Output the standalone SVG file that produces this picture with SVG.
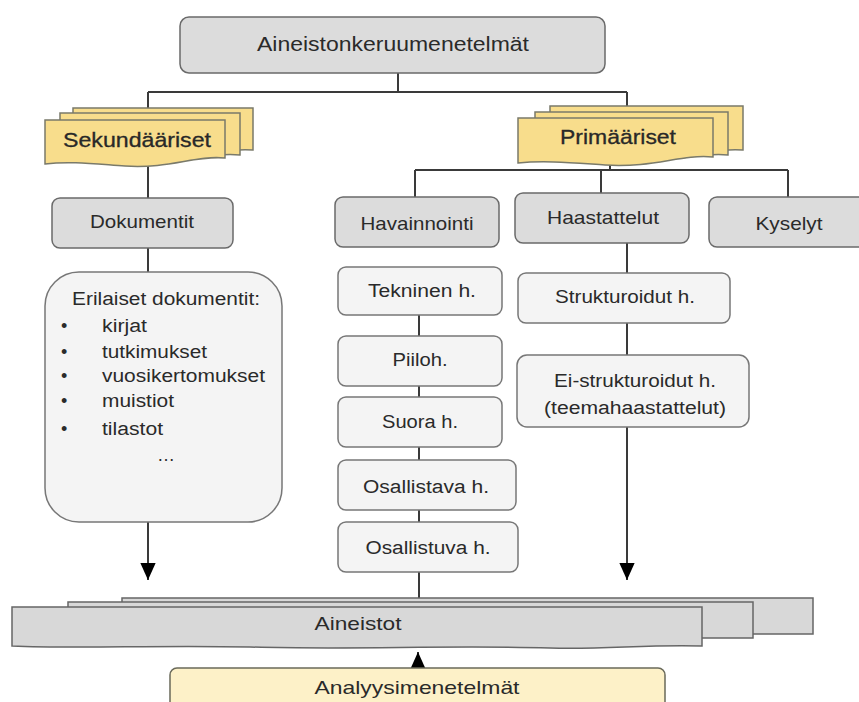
<svg xmlns="http://www.w3.org/2000/svg" width="859" height="702" viewBox="0 0 859 702">
<defs>
<style>
.t{font-family:"Liberation Sans",Arial,sans-serif;fill:#2a2a2a;}
.grey{fill:#dcdcdc;stroke:#6a6a6a;stroke-width:1.5;}
.light{fill:#f4f4f4;stroke:#777;stroke-width:1.5;}
.yel{fill:#f8dd8c;stroke:#7a7a6a;stroke-width:1.5;}
.ana{fill:#fdf1c8;stroke:#6a6a5a;stroke-width:1.5;}
.stk{fill:#d8d8d8;stroke:#666;stroke-width:1.5;}
.c{stroke:#3a3a3a;stroke-width:2;fill:none;}
</style>
<marker id="ahb" viewBox="0 0 10 10" refX="10" refY="5" markerWidth="17" markerHeight="17" markerUnits="userSpaceOnUse" orient="auto">
<path d="M0,0.5 L10,5 L0,9.5 Z" fill="#000"/>
</marker>
</defs>
<rect width="859" height="702" fill="#fff"/>

<g id="connectors">
<path class="c" d="M398,73 V92 M148,92 H627 M148,92 V198 M627,92 V112 M610,158 V170 M415,170 H788 M415,170 V197 M601,170 V193 M788,170 V197 M148,248 V272"/>
<path class="c" d="M148,522 V580" marker-end="url(#ahb)"/>
<path class="c" d="M627,243 V273 M627,323 V355"/>
<path class="c" d="M627,427 V580" marker-end="url(#ahb)"/>
<path class="c" d="M419,315 V336 M419,386 V397 M419,447 V460 M419,510 V522 M419,572 V598"/>
<path class="c" d="M418,668 V652" marker-end="url(#ahb)"/>
</g>

<g id="n-top">
<rect class="grey" x="180" y="17" width="425" height="56" rx="9"/>
<text class="t" x="393" y="51" font-size="20" text-anchor="middle" textLength="272" lengthAdjust="spacingAndGlyphs">Aineistonkeruumenetelmät</text>
</g>

<g id="n-sekundaariset">
<path class="yel" d="M73,108 H253 V150 C225,148 200,156 170,154 C130,152 100,150 73,152 Z"/>
<path class="yel" d="M60,113 H240 V155 C210,152 185,162 150,160 C115,158 90,156 60,158 Z"/>
<path class="yel" d="M45,120 H225 V158 C195,155 170,169 125,166 C95,164 70,161 45,164 Z"/>
<text class="t" x="137" y="147" font-size="21" text-anchor="middle" textLength="148" lengthAdjust="spacingAndGlyphs" fill="#222" stroke="#222" stroke-width="0.3">Sekundääriset</text>
</g>

<g id="n-primaariset">
<path class="yel" d="M550,106 H743 V150 C715,148 690,156 655,154 C615,152 585,150 550,152 Z"/>
<path class="yel" d="M535,112 H728 V155 C700,152 675,162 640,160 C600,158 570,156 535,158 Z"/>
<path class="yel" d="M518,118 H713 V157 C680,154 655,168 605,165 C575,163 545,160 518,163 Z"/>
<text class="t" x="618" y="144" font-size="21" text-anchor="middle" textLength="116" lengthAdjust="spacingAndGlyphs" fill="#222" stroke="#222" stroke-width="0.3">Primääriset</text>
</g>

<g id="n-dokumentit">
<rect class="grey" x="52" y="198" width="181" height="50" rx="8"/>
<text class="t" x="142" y="228" font-size="19" text-anchor="middle" textLength="104" lengthAdjust="spacingAndGlyphs">Dokumentit</text>
</g>

<g id="n-havainnointi">
<rect class="grey" x="335" y="197" width="164" height="50" rx="8"/>
<text class="t" x="417" y="230" font-size="19" text-anchor="middle" textLength="113" lengthAdjust="spacingAndGlyphs">Havainnointi</text>
</g>

<g id="n-haastattelut">
<rect class="grey" x="515" y="193" width="174" height="50" rx="8"/>
<text class="t" x="603" y="224" font-size="19" text-anchor="middle" textLength="112" lengthAdjust="spacingAndGlyphs">Haastattelut</text>
</g>

<g id="n-kyselyt">
<rect class="grey" x="709" y="197" width="160" height="50" rx="8"/>
<text class="t" x="789" y="230" font-size="19" text-anchor="middle" textLength="67" lengthAdjust="spacingAndGlyphs">Kyselyt</text>
</g>

<g id="n-erilaiset">
<rect class="light" x="45" y="272" width="237" height="250" rx="34"/>
<text class="t" x="166" y="305" font-size="18" text-anchor="middle" textLength="188" lengthAdjust="spacingAndGlyphs">Erilaiset dokumentit:</text>
<g class="t" font-size="18">
<text x="61" y="332">•</text><text x="102" y="332" textLength="45" lengthAdjust="spacingAndGlyphs">kirjat</text>
<text x="61" y="358">•</text><text x="102" y="358" textLength="105" lengthAdjust="spacingAndGlyphs">tutkimukset</text>
<text x="61" y="382">•</text><text x="102" y="382" textLength="163" lengthAdjust="spacingAndGlyphs">vuosikertomukset</text>
<text x="61" y="407">•</text><text x="102" y="407" textLength="72" lengthAdjust="spacingAndGlyphs">muistiot</text>
<text x="61" y="435">•</text><text x="102" y="435" textLength="61" lengthAdjust="spacingAndGlyphs">tilastot</text>
<text x="166" y="461" text-anchor="middle">…</text>
</g>
</g>

<g id="n-tekninen">
<rect class="light" x="338" y="267" width="164" height="48" rx="8"/>
<text class="t" x="422" y="297" font-size="18" text-anchor="middle" textLength="108" lengthAdjust="spacingAndGlyphs">Tekninen h.</text>
</g>
<g id="n-piiloh">
<rect class="light" x="338" y="336" width="164" height="50" rx="8"/>
<text class="t" x="420" y="366" font-size="18" text-anchor="middle" textLength="55" lengthAdjust="spacingAndGlyphs">Piiloh.</text>
</g>
<g id="n-suora">
<rect class="light" x="338" y="397" width="164" height="50" rx="8"/>
<text class="t" x="420" y="428" font-size="18" text-anchor="middle" textLength="76" lengthAdjust="spacingAndGlyphs">Suora h.</text>
</g>
<g id="n-osallistava">
<rect class="light" x="338" y="460" width="178" height="50" rx="8"/>
<text class="t" x="426" y="493" font-size="18" text-anchor="middle" textLength="126" lengthAdjust="spacingAndGlyphs">Osallistava h.</text>
</g>
<g id="n-osallistuva">
<rect class="light" x="338" y="522" width="180" height="50" rx="8"/>
<text class="t" x="428" y="554" font-size="18" text-anchor="middle" textLength="125" lengthAdjust="spacingAndGlyphs">Osallistuva h.</text>
</g>

<g id="n-strukturoidut">
<rect class="light" x="518" y="273" width="212" height="50" rx="8"/>
<text class="t" x="625" y="303" font-size="18" text-anchor="middle" textLength="140" lengthAdjust="spacingAndGlyphs">Strukturoidut h.</text>
</g>
<g id="n-eistrukturoidut">
<rect class="light" x="517" y="355" width="232" height="72" rx="10"/>
<text class="t" x="635" y="387" font-size="18" text-anchor="middle" textLength="162" lengthAdjust="spacingAndGlyphs">Ei-strukturoidut h.</text>
<text class="t" x="635" y="414" font-size="18" text-anchor="middle" textLength="182" lengthAdjust="spacingAndGlyphs">(teemahaastattelut)</text>
</g>

<g id="n-aineistot">
<rect class="stk" x="122" y="598" width="691" height="36"/>
<rect class="stk" x="68" y="602" width="685" height="36"/>
<path class="stk" d="M12,607 H702 V646 C650,644 600,650 550,648 C450,645 350,650 250,647 C150,645 80,649 12,646 Z"/>
<text class="t" x="358" y="630" font-size="19" text-anchor="middle" textLength="87" lengthAdjust="spacingAndGlyphs">Aineistot</text>
</g>

<g id="n-analyysi">
<rect class="ana" x="170" y="668" width="495" height="60" rx="7"/>
<text class="t" x="417" y="694" font-size="19" text-anchor="middle" textLength="205" lengthAdjust="spacingAndGlyphs">Analyysimenetelmät</text>
</g>
</svg>
